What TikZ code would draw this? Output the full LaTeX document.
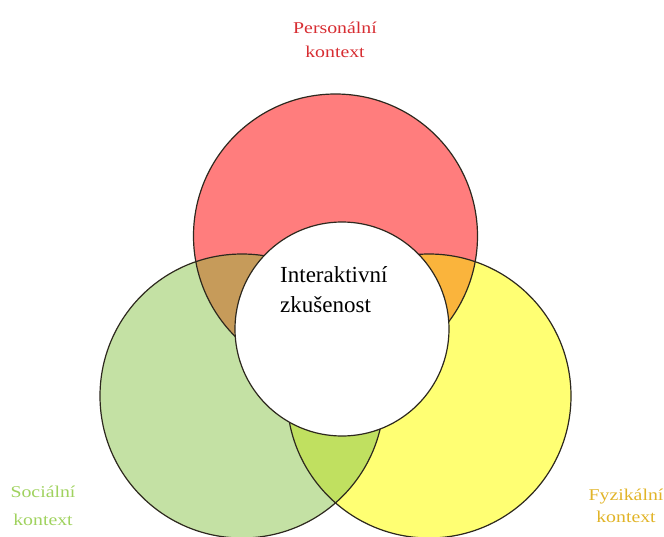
\documentclass[tikz,border=0pt]{standalone}
\usepackage{fontspec}
\setmainfont{Liberation Serif}
\newfontfamily\labelfont[FakeStretch=1.2]{Liberation Serif}

\definecolor{persFill}{RGB}{255,125,125}
\definecolor{socFill}{RGB}{196,225,164}
\definecolor{fyzFill}{RGB}{255,255,115}
\definecolor{persSocFill}{RGB}{198,155,90}
\definecolor{persFyzFill}{RGB}{250,180,60}
\definecolor{socFyzFill}{RGB}{192,224,96}
\definecolor{rimColor}{RGB}{45,40,30}
\definecolor{persText}{RGB}{215,45,50}
\definecolor{socText}{RGB}{160,210,95}
\definecolor{fyzText}{RGB}{225,180,40}

\begin{document}
\begin{tikzpicture}[x=1pt,y=-1pt,
  rim/.style={draw=rimColor,line width=1.2pt},
  ctxlabel/.style={font=\labelfont\fontsize{16.5}{24}\selectfont,align=center,anchor=base,inner sep=0pt},
  centerlabel/.style={font=\fontsize{23}{30}\selectfont,align=left,anchor=base west,inner sep=0pt}]
  \useasboundingbox (0,0) rectangle (664,536);
  \clip (0,0) rectangle (664,536);

  % circle centres
  \coordinate (cPers) at (335.5,236);
  \coordinate (cSoc) at (242,396);
  \coordinate (cFyz) at (429,396);
  \coordinate (cInt) at (342,329);
  \def\rad{142}

  % plain discs
  \fill[persFill] (cPers) circle (\rad);
  \fill[socFill] (cSoc) circle (\rad);
  \fill[fyzFill] (cFyz) circle (\rad);

  % pairwise overlaps
  \begin{scope}
    \clip (cPers) circle (\rad);
    \fill[persSocFill] (cSoc) circle (\rad);
  \end{scope}
  \begin{scope}
    \clip (cPers) circle (\rad);
    \fill[persFyzFill] (cFyz) circle (\rad);
  \end{scope}
  \begin{scope}
    \clip (cSoc) circle (\rad);
    \fill[socFyzFill] (cFyz) circle (\rad);
  \end{scope}

  % outlines
  \draw[rim] (cPers) circle (\rad);
  \draw[rim] (cSoc) circle (\rad);
  \draw[rim] (cFyz) circle (\rad);

  % central disc
  \filldraw[rim,fill=white] (cInt) circle (107);

  % multi-line nodes: the base anchor sits on the last line
  \node[centerlabel] (interakce) at (280,312) {Interaktivní\\zkušenost};

  \node[ctxlabel,text=persText] (lblPers) at (335,57) {Personální\\kontext};
  \node[ctxlabel,text=socText,font=\labelfont\fontsize{16.5}{28}\selectfont] (lblSoc) at (43,525) {Sociální\\kontext};
  \node[ctxlabel,text=fyzText,font=\labelfont\fontsize{16.5}{22}\selectfont] (lblFyz) at (626,522) {Fyzikální\\kontext};
\end{tikzpicture}
\end{document}
